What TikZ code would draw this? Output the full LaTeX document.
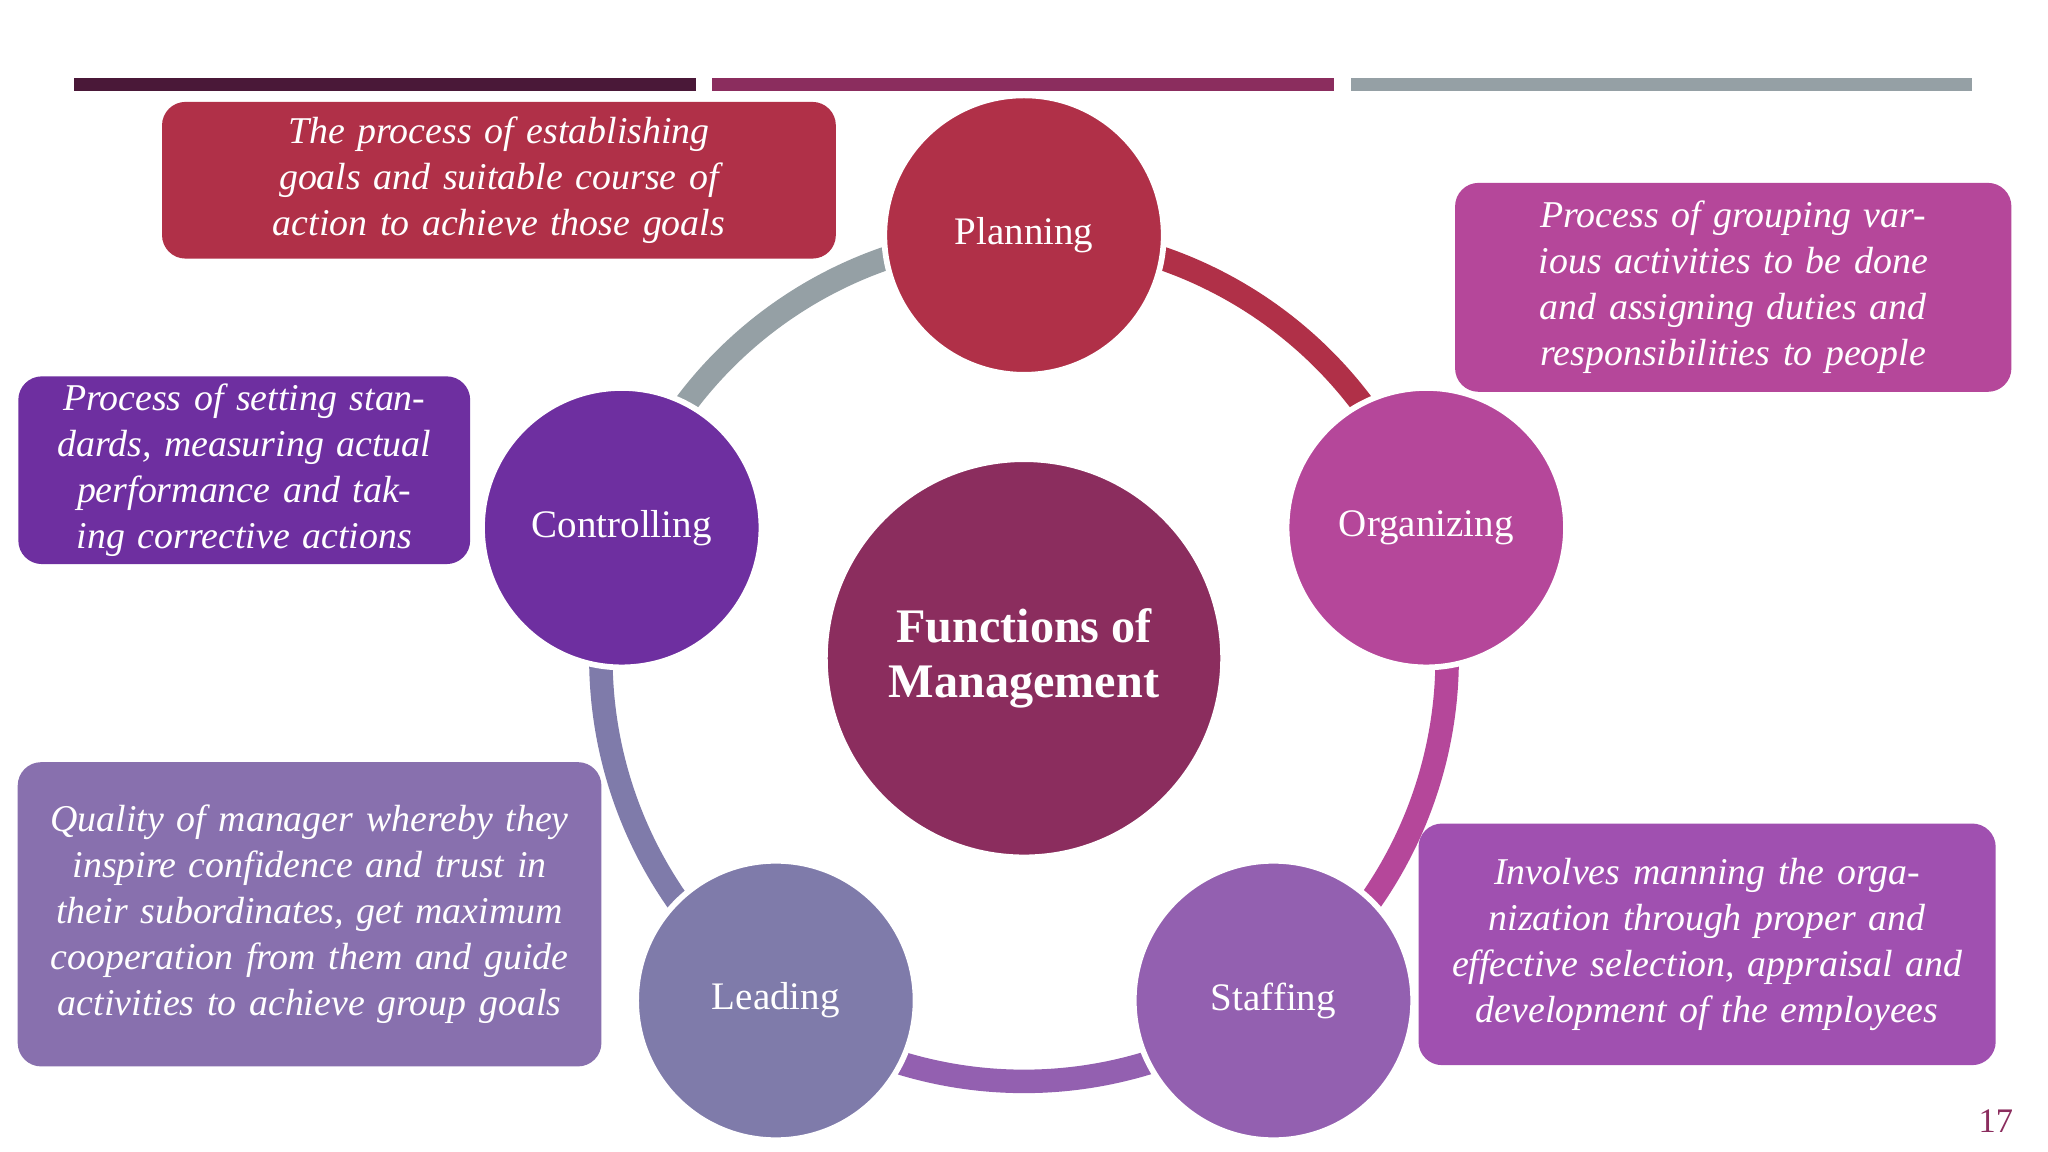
\documentclass[tikz,border=0pt]{standalone}
\usepackage{fontspec}
\setmainfont{Liberation Serif}
\begin{document}
\begin{tikzpicture}[x=0.02cm,y=-0.02cm,
  fn/.style={circle,draw=white,line width=2.5pt,minimum size=4.28cm,text=white,font=\fontsize{17}{20}\selectfont},
  box/.style={rounded corners=0.36cm,text=white,align=center,font=\fontsize{16.5}{20}\selectfont\itshape},
  ring/.style={line width=0.36cm}]
\definecolor{cPlan}{HTML}{B03048}
\definecolor{cOrg}{HTML}{B5479A}
\definecolor{cStaff}{HTML}{9360B0}
\definecolor{cLead}{HTML}{7F7BAA}
\definecolor{cCtrl}{HTML}{6E2FA0}
\definecolor{cGrey}{HTML}{95A0A5}
\definecolor{cMid}{HTML}{8B2D5E}
\definecolor{cDark}{HTML}{4A1838}
\definecolor{cStaffBox}{HTML}{A050B0}
\definecolor{cLeadBox}{HTML}{8870AE}
\useasboundingbox (0,0) rectangle (1568,882);
\fill[white] (0,0) rectangle (1568,882);
% top bars
\fill[cDark] (57,60) rectangle (533,70);
\fill[cMid] (545,60) rectangle (1021,70);
\fill[cGrey] (1034,60) rectangle (1510,70);
% ring
\coordinate (C) at (784,504);
\draw[ring,cPlan] (C) ++(90:6.48cm) arc[start angle=90,end angle=18,radius=6.48cm];
\draw[ring,cOrg] (C) ++(18:6.48cm) arc[start angle=18,end angle=-54,radius=6.48cm];
\draw[ring,cStaff] (C) ++(-54:6.48cm) arc[start angle=-54,end angle=-126,radius=6.48cm];
\draw[ring,cLead] (C) ++(-126:6.48cm) arc[start angle=-126,end angle=-198,radius=6.48cm];
\draw[ring,cGrey] (C) ++(162:6.48cm) arc[start angle=162,end angle=90,radius=6.48cm];
% circles
\node[fn,fill=cMid,minimum size=6.1cm,font=\fontsize{21}{24}\selectfont\bfseries,align=center] (center) at (784,504) {Functions of\\Management};
\node[fn,fill=cPlan] (plan) at (784,180) {Planning};
\node[fn,fill=cOrg] (org) at (1092,404) {Organizing};
\node[fn,fill=cStaff] (staff) at (975,766) {Staffing};
\node[fn,fill=cLead] (lead) at (594,766) {Leading};
\node[fn,fill=cCtrl] (ctrl) at (476,404) {Controlling};
% boxes
\node[box,fill=cPlan,minimum width=10.32cm,minimum height=2.4cm,text width=9.6cm] (bplan) at (382,138) {The process of establishing goals and suitable course of action to achieve those goals};
\node[box,fill=cOrg,minimum width=8.52cm,minimum height=3.2cm,text width=8cm] (borg) at (1327,220) {Process of grouping various activities to be done and assigning duties and responsibilities to people};
\node[box,fill=cStaffBox,minimum width=8.84cm,minimum height=3.7cm,text width=8.4cm] (bstaff) at (1307,723) {Involves manning the organization through proper and effective selection, appraisal and development of the employees};
\node[box,fill=cLeadBox,minimum width=8.94cm,minimum height=4.66cm,text width=8.5cm] (blead) at (237,700) {Quality of manager whereby they inspire confidence and trust in their subordinates, get maximum cooperation from them and guide activities to achieve group goals};
\node[box,fill=cCtrl,minimum width=6.92cm,minimum height=2.86cm,text width=6.6cm] (bctrl) at (187,360) {Process of setting standards, measuring actual performance and taking corrective actions};
\node[text=cMid,font=\fontsize{15}{18}\selectfont] (pg) at (1528,858) {17};
\end{tikzpicture}
\end{document}
